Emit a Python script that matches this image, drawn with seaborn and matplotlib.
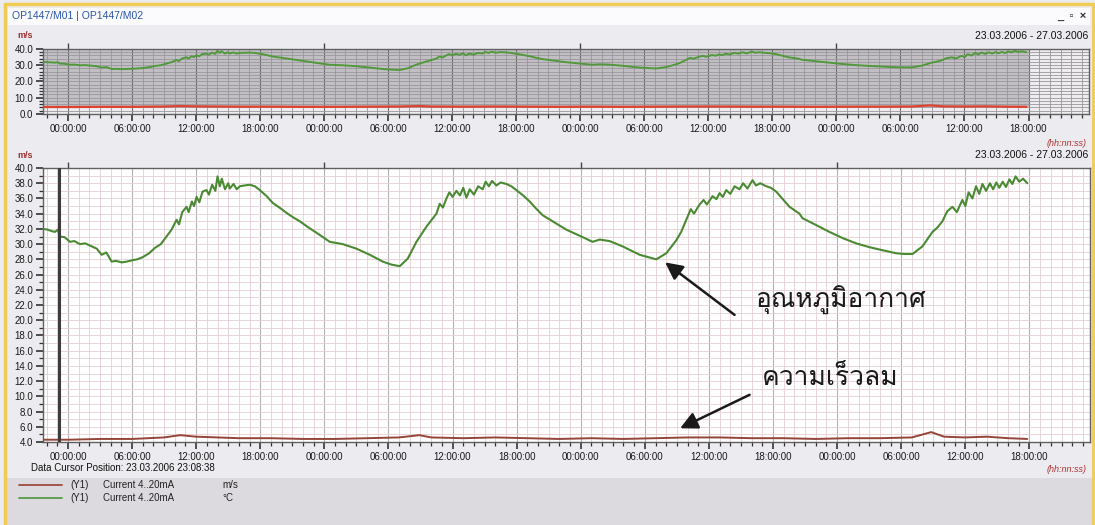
import numpy as np
import pandas as pd
import matplotlib
matplotlib.use("Agg")
import matplotlib.pyplot as plt
import matplotlib.dates as mdates
from matplotlib.ticker import MultipleLocator, FormatStrFormatter, NullLocator
from matplotlib.lines import Line2D
from matplotlib.patches import Rectangle
from matplotlib import font_manager
import seaborn as sns

# ---------------- data (hours relative to 24.03.2006 00:00) ----------------
temp_hours = [-2.33, -1.9, -1.5, -1.22, -0.95, -0.75, -0.3, 0.19, 0.6, 1.12, 1.6, 2.22, 2.7, 3.15,
              3.6, 4.09, 4.5, 5.02, 5.5, 6.08, 6.5, 7.02, 7.6, 8.14, 8.7, 9.23, 9.7, 10.17, 10.4,
              10.7, 11.1, 11.3, 11.6, 11.8, 12.04, 12.3, 12.6, 12.97, 13.2, 13.5, 13.8, 14.0,
              14.22, 14.4, 14.7, 15.0, 15.15, 15.5, 15.8, 16.09, 16.5, 17.03, 17.5, 17.96, 18.6,
              19.18, 19.8, 20.46, 21.1, 21.7, 22.5, 23.26, 24.51, 25.72, 27.01, 28.25, 29.47,
              30.3, 31.06, 31.81, 32.62, 33.56, 34.49, 34.8, 35.1, 35.43, 35.7, 36.0, 36.36,
              36.7, 37.0, 37.3, 37.61, 38.0, 38.4, 38.82, 39.1, 39.4, 39.7, 40.1, 40.5, 41.04,
              41.5, 41.97, 42.6, 43.22, 43.8, 44.43, 45.37, 46.65, 47.9, 49.11, 49.77, 50.7,
              51.92, 53.51, 55.07, 56.01, 56.94, 57.4, 57.88, 58.3, 58.6, 59.12, 59.5, 59.8,
              60.34, 60.7, 61.0, 61.3, 61.62, 62.0, 62.4, 62.86, 63.2, 63.6, 64.08, 64.4, 64.8,
              65.36, 65.8, 66.29, 67.23, 67.54, 68.47, 68.76, 70.04, 71.28, 72.5, 73.78, 75.02,
              76.24, 77.52, 78.3, 79.05, 79.98, 80.92, 81.4, 81.85, 82.3, 82.79, 83.2, 83.72,
              84.0, 84.3, 84.66, 85.0, 85.3, 85.6, 85.94, 86.3, 86.6, 86.9, 87.18, 87.5, 87.8,
              88.12, 88.4, 88.7, 89.05, 89.4, 89.8]
temp_values = [32.0, 31.9, 31.7, 31.6, 31.9, 31.0, 30.9, 30.3, 30.4, 30.0, 30.1, 29.7, 29.4, 28.6,
               28.9, 27.7, 27.8, 27.6, 27.7, 27.9, 28.0, 28.3, 28.8, 29.5, 30.0, 31.0, 31.9, 33.2,
               32.6, 34.2, 34.9, 34.2, 35.6, 35.0, 36.2, 35.5, 36.9, 37.1, 36.5, 37.8, 37.0, 38.9,
               37.6, 38.6, 37.2, 38.0, 37.3, 37.9, 37.2, 37.6, 37.7, 37.8, 37.6, 37.1, 36.3,
               35.4, 34.8, 34.1, 33.5, 33.0, 32.2, 31.5, 30.3, 30.0, 29.4, 28.6, 27.7,
               27.3, 27.1, 28.1, 30.3, 32.3, 34.0, 35.3, 34.8, 36.0, 36.8, 36.2, 37.0,
               36.4, 37.4, 36.1, 37.2, 36.5, 37.6, 37.2, 38.2, 37.6, 38.3, 37.7, 38.1, 37.9,
               37.6, 37.1, 36.4, 35.6, 34.7, 33.8, 33.0, 31.9, 31.1, 30.3, 30.6, 30.4,
               29.7, 28.6, 28.0, 28.8, 30.5, 31.6, 33.2, 34.6, 34.0, 35.2, 35.8, 35.2,
               36.3, 35.9, 36.7, 36.2, 37.1, 36.6, 37.6, 37.2, 38.0, 37.3, 38.4, 37.7, 38.0,
               37.6, 37.4, 36.9, 35.4, 34.9, 34.0, 33.4, 32.5, 31.6, 30.8, 30.1, 29.6,
               29.2, 28.8, 28.7, 28.7, 29.7, 31.6, 32.2, 33.0, 34.3, 34.9, 34.2, 35.8,
               35.0, 36.8, 36.0, 37.6, 36.6, 37.9, 37.0, 38.0, 37.2, 38.1, 37.4, 38.2, 37.5,
               38.5, 37.9, 38.9, 38.2, 38.6, 38.0]

wind_hours = [-2.33, 0.0, 3.0, 6.0, 9.0, 10.5, 12.0, 14.0, 16.0, 19.0, 22.0, 25.0, 28.0, 31.0,
              32.9, 34.0, 37.0, 40.0, 43.0, 46.0, 49.0, 52.0, 55.0, 58.0, 61.0, 64.0, 67.0,
              70.0, 73.0, 76.0, 79.0, 80.8, 82.0, 84.0, 86.0, 88.0, 89.8]
wind_values = [4.3, 4.3, 4.4, 4.4, 4.6, 4.9, 4.7, 4.6, 4.5, 4.5, 4.4, 4.4, 4.5, 4.6,
               4.9, 4.6, 4.5, 4.6, 4.5, 4.4, 4.5, 4.4, 4.5, 4.6, 4.6, 4.5, 4.5,
               4.4, 4.5, 4.5, 4.6, 5.3, 4.7, 4.6, 4.7, 4.5, 4.4]

base_time = pd.Timestamp("2006-03-24 00:00:00")
x_start = pd.Timestamp("2006-03-23 21:40:00")
x_end = pd.Timestamp("2006-03-27 23:40:00")
cursor_time = pd.Timestamp("2006-03-23 23:08:38")

date_range_text = "23.03.2006 - 27.03.2006"
title_text = "OP1447/M01 | OP1447/M02"
cursor_text = "Data Cursor Position: 23.03.2006 23:08:38"
unit_text = "m/s"
time_fmt_text = "(hh:nn:ss)"
legend_series = ["(Y1)", "(Y1)"]
legend_names = ["Current 4..20mA", "Current 4..20mA"]
legend_units = ["m/s", "°C"]
label_temp = "อุณหภูมิอากาศ"
label_wind = "ความเร็วลม"

temp_df = pd.DataFrame({"time": base_time + pd.to_timedelta(temp_hours, unit="h"),
                        "value": temp_values})
wind_df = pd.DataFrame({"time": base_time + pd.to_timedelta(wind_hours, unit="h"),
                        "value": wind_values})

# ---------------- fonts ----------------
sns.set_theme(style="white")


def find_font(ch):
    try:
        from fontTools.ttLib import TTFont
    except Exception:
        return None
    for f in font_manager.fontManager.ttflist:
        try:
            tt = TTFont(f.fname, fontNumber=0, lazy=True)
            cmap = tt.getBestCmap()
            if cmap and ord(ch) in cmap:
                return f.name
        except Exception:
            continue
    return None


thai_font = find_font("อ")
plt.rcParams["font.family"] = ["Liberation Sans", "DejaVu Sans"]
thai_family = [thai_font, "DejaVu Sans"] if thai_font else ["DejaVu Sans"]

W, H = 1095, 525
fig = plt.figure(figsize=(W / 100, H / 100), dpi=100, facecolor="#ecebf0")


def fx(x):
    return x / W


def fy(y):
    return 1 - y / H


# window decorations
fig.patches.append(Rectangle((fx(8), fy(25)), fx(1082), 17 / H, transform=fig.transFigure,
                             facecolor="#fbfbfd", edgecolor="none", zorder=0))
fig.patches.append(Rectangle((fx(6), fy(525)), fx(1087), (525 - 478) / H, transform=fig.transFigure,
                             facecolor="#dcdadf", edgecolor="none", zorder=0))
fig.lines.append(Line2D([fx(5), fx(5)], [0, fy(4)], transform=fig.transFigure, color="#f0cc55", lw=2.5))
fig.lines.append(Line2D([fx(5), fx(1093)], [fy(4), fy(4)], transform=fig.transFigure, color="#f0cc55", lw=2.5))
fig.lines.append(Line2D([fx(1093), fx(1093)], [0, fy(4)], transform=fig.transFigure, color="#f0cc55", lw=2.0))
fig.text(fx(12), fy(16), title_text, color="#2a56a8", fontsize=7.5, va="center", ha="left")
fig.text(fx(1086), fy(16), "_  ▫  ×", color="#333", fontsize=8, fontweight="bold", va="center", ha="right")


def style_axis(ax, minor_grid, major_grid, face):
    ax.set_facecolor(face)
    ax.set_xlim(x_start, x_end)
    ax.xaxis.set_major_locator(mdates.HourLocator(byhour=[0, 6, 12, 18]))
    ax.xaxis.set_minor_locator(mdates.HourLocator(interval=1))
    ax.xaxis.set_major_formatter(mdates.DateFormatter("%H:%M:%S"))
    ax.tick_params(axis="both", which="major", direction="out", length=5, width=1.2,
                   color="#333", labelsize=7, labelcolor="#1a1a1a", pad=2,
                   bottom=True, left=True)
    ax.tick_params(axis="both", which="minor", direction="out", length=3, width=0.9,
                   color="#333", bottom=True, left=True)
    for s in ax.spines.values():
        s.set_color("#606060")
        s.set_linewidth(1.0)
    ax.grid(which="minor", color=minor_grid, lw=0.6)
    ax.grid(which="major", axis="y", color=minor_grid, lw=0.6)
    ax.grid(which="major", axis="x", color=major_grid, lw=0.8)
    ax.set_axisbelow(True)
    ax.set_xlabel("")
    ax.set_ylabel("")
    sec = ax.secondary_xaxis("top")
    sec.xaxis.set_major_locator(mdates.HourLocator(byhour=[0]))
    sec.xaxis.set_minor_locator(NullLocator())
    sec.tick_params(which="major", direction="out", length=4, width=1.0, color="#444",
                    labeltop=False, top=True)
    sec.spines["top"].set_visible(False)


# ---------------- top overview panel ----------------
ax_top = fig.add_axes([fx(43), fy(114), fx(1089 - 43), (114 - 49) / H])
ax_top.fill_between([temp_df["time"].iloc[0], temp_df["time"].iloc[-1] + pd.Timedelta(minutes=20)],
                    4, 40, color="#c2bfc4", zorder=0.5, lw=0)
sns.lineplot(data=temp_df, x="time", y="value", ax=ax_top, color="#52993c", lw=1.4, zorder=3)
sns.lineplot(data=wind_df, x="time", y="value", ax=ax_top, color="#e0412e", lw=1.6, zorder=3)
ax_top.set_ylim(0, 40)
ax_top.yaxis.set_major_locator(MultipleLocator(10))
ax_top.yaxis.set_minor_locator(MultipleLocator(2))
ax_top.yaxis.set_major_formatter(FormatStrFormatter("%.1f"))
style_axis(ax_top, "#9a979c", "#707070", "#efecef")

fig.text(fx(17), fy(36), unit_text, color="#a03030", fontsize=6.5, fontweight="bold", va="center")
fig.text(fx(1088), fy(36), date_range_text, color="#111", fontsize=7.5, va="center", ha="right")
fig.text(fx(1087), fy(143), time_fmt_text, color="#b03030", fontsize=6.5, style="italic", va="center", ha="right")

# ---------------- main panel ----------------
ax = fig.add_axes([fx(43), fy(442), fx(1090 - 43), (442 - 168) / H])
sns.lineplot(data=temp_df, x="time", y="value", ax=ax, color="#4a8a33", lw=1.5, zorder=3)
sns.lineplot(data=wind_df, x="time", y="value", ax=ax, color="#94453a", lw=1.4, zorder=3)
ax.set_ylim(4, 40)
ax.yaxis.set_major_locator(MultipleLocator(2))
ax.yaxis.set_minor_locator(MultipleLocator(1))
ax.yaxis.set_major_formatter(FormatStrFormatter("%.1f"))
style_axis(ax, "#e4cfd5", "#b4b2b6", "#ffffff")
ax.axvline(cursor_time, color="#3c3c3c", lw=2.2, zorder=4)

fig.text(fx(17), fy(155), unit_text, color="#a03030", fontsize=6.5, fontweight="bold", va="center")
fig.text(fx(1088), fy(155), date_range_text, color="#111", fontsize=7.5, va="center", ha="right")
fig.text(fx(1087), fy(470), time_fmt_text, color="#b03030", fontsize=6.5, style="italic", va="center", ha="right")
fig.text(fx(31), fy(468), cursor_text, color="#111", fontsize=7, va="center", ha="left")

# annotations
arrow_kw = dict(arrowstyle="-|>", color="#1a1a1a", lw=1.8, mutation_scale=26, shrinkA=0, shrinkB=0)
ax.annotate("", xy=(base_time + pd.Timedelta(hours=55.9), 27.6),
            xytext=(base_time + pd.Timedelta(hours=62.4), 20.7), arrowprops=arrow_kw, zorder=5)
ax.annotate("", xy=(base_time + pd.Timedelta(hours=57.3), 5.8),
            xytext=(base_time + pd.Timedelta(hours=63.8), 10.2), arrowprops=arrow_kw, zorder=5)
ax.text(base_time + pd.Timedelta(hours=64.3), 22.6, label_temp, family=thai_family,
        fontsize=19, fontweight="medium", color="#1a1a1a", va="center", ha="left", zorder=5)
ax.text(base_time + pd.Timedelta(hours=65.0), 12.5, label_wind, family=thai_family,
        fontsize=19, fontweight="medium", color="#1a1a1a", va="center", ha="left", zorder=5)

# legend strip
leg_colors = ["#a04a40", "#5a9a48"]
for i, yy in enumerate([485, 498]):
    fig.lines.append(Line2D([fx(19), fx(62)], [fy(yy), fy(yy)], transform=fig.transFigure,
                            color=leg_colors[i], lw=1.3))
    fig.text(fx(70), fy(yy), legend_series[i], fontsize=7, color="#222", va="center")
    fig.text(fx(103), fy(yy), legend_names[i], fontsize=7, color="#222", va="center")
    fig.text(fx(222), fy(yy), legend_units[i], fontsize=7, color="#222", va="center")

fig.savefig("out.png", dpi=100, facecolor=fig.get_facecolor())
